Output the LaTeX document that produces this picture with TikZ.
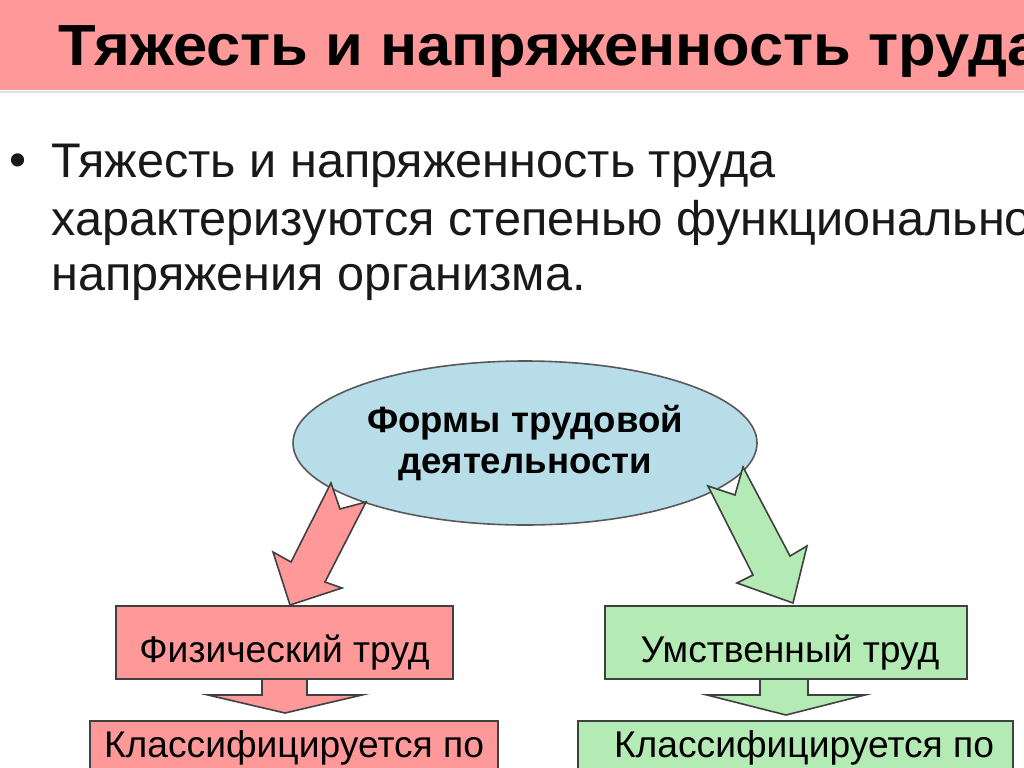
\documentclass[tikz,border=0pt]{standalone}
\usepackage{fontspec}
\setmainfont{Liberation Sans}
\usepackage{xcolor}
\usepackage{graphicx}
\usetikzlibrary{shapes.geometric}

\definecolor{titlepink}{RGB}{255,153,153}
\definecolor{boxpink}{RGB}{255,153,153}
\definecolor{boxgreen}{RGB}{180,234,180}
\definecolor{ellblue}{RGB}{183,221,232}
\definecolor{edgegrey}{RGB}{64,64,64}

\begin{document}
\begin{tikzpicture}[x=0.5pt,y=-0.5pt,
  blockbox/.style={draw=edgegrey,line width=0.8pt,inner ysep=0pt,anchor=north,font=\fontsize{18.6}{21}\selectfont},
  blockarrow/.style={draw=edgegrey,line width=0.8pt,line join=miter},
  bodytext/.style={anchor=base west,inner sep=0pt,font=\fontsize{24.3}{26}\selectfont,text=black!90}]
\useasboundingbox (0,0) rectangle (1024,767);
\clip (0,0) rectangle (1024,767);
\fill[white] (0,0) rectangle (1024,767);

\fill[titlepink] (0,0) rectangle (1024,90);
\draw[black!12,line width=1pt] (0,91.5) -- (1024,91.5);
\node[anchor=base west,inner sep=0pt,font=\fontsize{29}{32}\selectfont\bfseries] (title) at (58,65) {\scalebox{1.06}[1]{Тяжесть и напряженность труда}};

\node[inner sep=0pt,font=\fontsize{24.3}{26}\selectfont,text=black!90] (bullet) at (18,165) {•};
\node[bodytext] (line1) at (51,177) {Тяжесть и напряженность труда};
\node[bodytext] (line2) at (51,235) {характеризуются степенью функционально};
\node[bodytext] (line3) at (51,290) {напряжения организма.};

\node[ellipse,draw=black!65,line width=0.8pt,fill=ellblue,minimum width=232pt,minimum height=82pt,inner sep=0pt,align=center,font=\fontsize{18.3}{20.8}\selectfont\bfseries] (forms) at (525,443) {Формы трудовой\\деятельности};

\filldraw[blockarrow,fill=boxpink] (331,483) -- (340,509) -- (366,502) -- (325,582) -- (342,588) -- (290,605) -- (273,552) -- (291,562) -- cycle;
\filldraw[blockarrow,fill=boxgreen] (743,467) -- (735,495) -- (708,486) -- (753,575) -- (737,583) -- (793,603) -- (807,546) -- (790,556) -- cycle;

\filldraw[blockarrow,fill=boxpink] (262,676) -- (262,695) -- (208,695) -- (285,713) -- (362,695) -- (307,695) -- (307,676) -- cycle;
\filldraw[blockarrow,fill=boxgreen] (760,676) -- (760,695) -- (707,695) -- (786,715) -- (865,695) -- (808,695) -- (808,676) -- cycle;

\node[blockbox,fill=boxpink,minimum width=168.5pt,text height=28.5pt,text depth=8pt] (phys) at (284.5,605) {Физический труд\hspace{11pt}};
\node[blockbox,fill=boxgreen,minimum width=181pt,text height=28.5pt,text depth=8pt] (ment) at (786,605) {\hspace{4pt}Умственный труд};

\node[blockbox,fill=boxpink,minimum width=204pt,text height=18.5pt,text depth=30pt] (physcls) at (294,720) {Классифицируется по};
\node[blockbox,fill=boxgreen,minimum width=217.5pt,text height=18.5pt,text depth=30pt] (mentcls) at (795.5,720) {\hspace{8.5pt}Классифицируется по};
\end{tikzpicture}
\end{document}
